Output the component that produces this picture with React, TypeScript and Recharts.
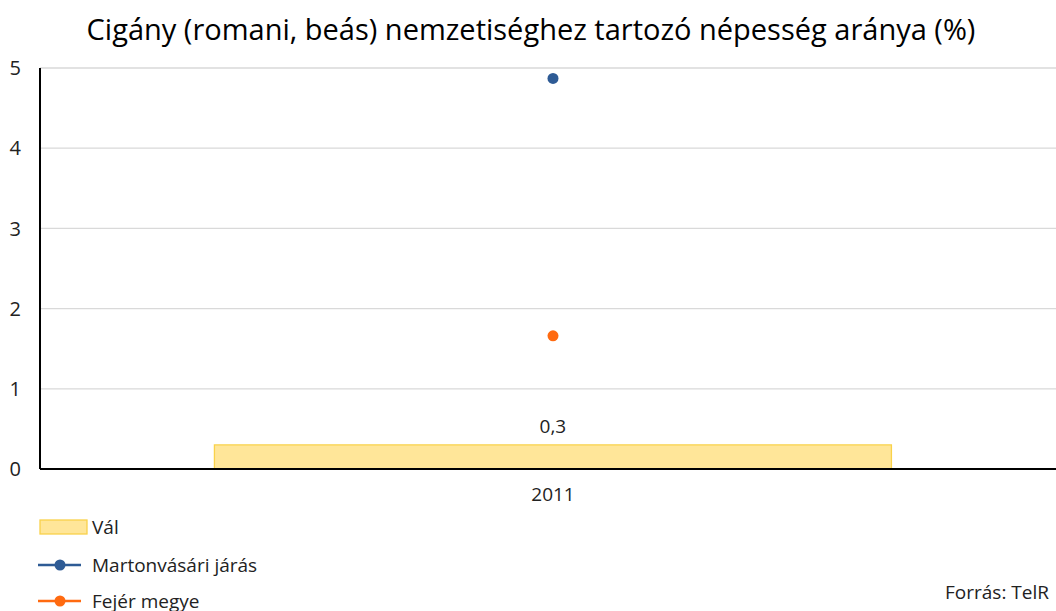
import React from 'react';
import {
  ComposedChart,
  Bar,
  Line,
  XAxis,
  YAxis,
  CartesianGrid,
  LabelList,
} from 'recharts';

// Values
const years = ['2011'];
const valValues = [0.3];
const martonvasarValues = [4.87];
const fejerValues = [1.66];
const yTicks = [0, 1, 2, 3, 4, 5];

const data = years.map((year, i) => ({
  year,
  val: valValues[i],
  marton: martonvasarValues[i],
  fejer: fejerValues[i],
}));

const FONT = "'Open Sans', sans-serif";
const BAR_FILL = '#FFE699';
const BAR_STROKE = '#F9D24A';
const BLUE = '#2E5B95';
const ORANGE = '#FF6A10';

const legendItems = [
  { name: 'Vál', kind: 'bar', color: BAR_FILL, y: 527 },
  { name: 'Martonvásári járás', kind: 'line', color: BLUE, y: 565 },
  { name: 'Fejér megye', kind: 'line', color: ORANGE, y: 601 },
];

export default function App() {
  return (
    <div
      style={{
        position: 'absolute',
        left: 0,
        top: 0,
        width: 1056,
        height: 611,
        overflow: 'hidden',
        background: '#fff',
        fontFamily: FONT,
      }}
    >
      {/* Title */}
      <div
        style={{
          position: 'absolute',
          left: 0,
          top: 9,
          width: 1062,
          textAlign: 'center',
          fontSize: 29,
          lineHeight: '40px',
          color: '#000',
          whiteSpace: 'nowrap',
        }}
      >
        Cigány (romani, beás) nemzetiséghez tartozó népesség aránya (%)
      </div>

      <ComposedChart
        width={1080}
        height={611}
        data={data}
        margin={{ top: 68, right: 14, left: 0, bottom: 112 }}
        barCategoryGap="17%"
        style={{ position: 'absolute', left: 0, top: 0 }}
      >
        <CartesianGrid vertical={false} stroke="#d9d9d9" strokeWidth={1.3} />
        <XAxis
          dataKey="year"
          height={30}
          axisLine={{ stroke: '#000', strokeWidth: 2 }}
          tickLine={false}
          tickSize={0}
          tickMargin={19}
          tick={{ fill: '#222', fontSize: 19, fontFamily: FONT }}
        />
        <YAxis
          width={40}
          domain={[0, 5]}
          ticks={yTicks}
          interval={0}
          axisLine={{ stroke: '#000', strokeWidth: 2 }}
          tickLine={false}
          tickSize={0}
          tickMargin={19}
          tick={{ fill: '#222', fontSize: 20, fontFamily: FONT }}
        />
        <Bar
          dataKey="val"
          name="Vál"
          fill={BAR_FILL}
          stroke={BAR_STROKE}
          strokeWidth={1.3}
          isAnimationActive={false}
        >
          <LabelList
            dataKey="val"
            position="top"
            offset={12}
            formatter={(v: number) => String(v).replace('.', ',')}
            style={{ fill: '#222', fontSize: 19, fontFamily: FONT }}
          />
        </Bar>
        <Line
          dataKey="marton"
          name="Martonvásári járás"
          stroke={BLUE}
          strokeWidth={2.5}
          dot={{ r: 5.5, fill: BLUE, stroke: BLUE, strokeWidth: 0 }}
          isAnimationActive={false}
        />
        <Line
          dataKey="fejer"
          name="Fejér megye"
          stroke={ORANGE}
          strokeWidth={2.5}
          dot={{ r: 5.5, fill: ORANGE, stroke: ORANGE, strokeWidth: 0 }}
          isAnimationActive={false}
        />
      </ComposedChart>

      {/* Legend */}
      {legendItems.map((item) => (
        <div
          key={item.name}
          style={{
            position: 'absolute',
            left: 38,
            top: item.y - 12,
            height: 24,
            display: 'flex',
            alignItems: 'center',
            fontSize: 19,
            color: '#222',
            whiteSpace: 'nowrap',
          }}
        >
          <svg width={52} height={24} style={{ marginRight: 2 }}>
            {item.kind === 'bar' ? (
              <rect x={2} y={5} width={47} height={14} fill={item.color} stroke={BAR_STROKE} strokeWidth={1.3} />
            ) : (
              <>
                <line x1={0} y1={12} x2={43} y2={12} stroke={item.color} strokeWidth={2.5} />
                <circle cx={22} cy={12} r={5.5} fill={item.color} />
              </>
            )}
          </svg>
          {item.name}
        </div>
      ))}

      {/* Source */}
      <div
        style={{
          position: 'absolute',
          left: 945,
          top: 579,
          fontSize: 19,
          color: '#222',
          whiteSpace: 'nowrap',
        }}
      >
        Forrás: TelR
      </div>
    </div>
  );
}
